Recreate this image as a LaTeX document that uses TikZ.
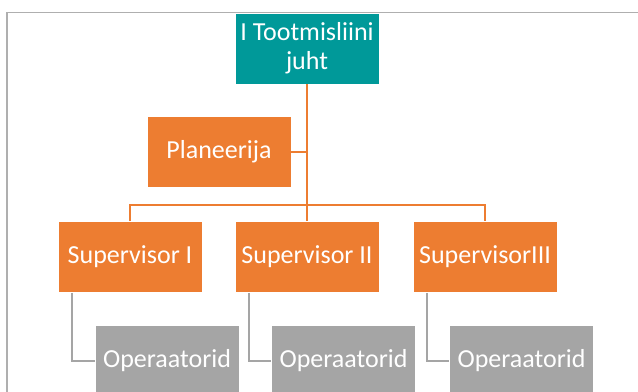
\documentclass[tikz,border=0pt]{standalone}
\usepackage{fontspec}
\setmainfont{Carlito}
\definecolor{headteal}{RGB}{0,153,153}
\definecolor{mgrorange}{RGB}{237,125,49}
\definecolor{opgray}{RGB}{165,165,165}
\definecolor{framegray}{RGB}{175,175,175}
\begin{document}
\begin{tikzpicture}[x=0.75pt,y=-0.75pt,
  box/.style={minimum width=108pt, minimum height=53.25pt, inner sep=0pt,
    text=white, align=center, draw=white, line width=0.6pt,
    font=\fontsize{19.5}{21.75}\selectfont},
  headbox/.style={box, fill=headteal},
  mgrbox/.style={box, fill=mgrorange},
  opbox/.style={box, fill=opgray},
  orangelink/.style={draw=mgrorange, line width=1.5pt},
  graylink/.style={draw=opgray, line width=1.5pt}]
\clip (0,0) rectangle (638,392);
% outer frame (right and bottom sides run off the page)
\draw[framegray, line width=1.1pt] (7,400) -- (7,12.5) -- (660,12.5);

% head
\node[headbox] (head) at (307,48.5) {I Tootmisliini\\juht};
% assistant
\node[mgrbox] (plan) at (219,152) {Planeerija};
% supervisors
\node[mgrbox] (sup1) at (130,257) {Supervisor I};
\node[mgrbox] (sup2) at (307,257) {Supervisor II};
\node[mgrbox] (sup3) at (485,257) {SupervisorIII};
% operators
\node[opbox] (op1) at (167,361) {Operaatorid};
\node[opbox] (op2) at (343.5,361) {Operaatorid};
\node[opbox] (op3) at (521.5,361) {Operaatorid};

% orange hierarchy links
\coordinate (bus) at (307,204.5);
\draw[orangelink] (head.south) -- (sup2.north);
\draw[orangelink] (plan.east) -- (plan.east -| head.south);
\draw[orangelink] (sup1.north) |- (bus) -| (sup3.north);

% gray operator links
\draw[graylink] ([xshift=10.5pt]sup1.south west) |- (op1.west);
\draw[graylink] ([xshift=10.5pt]sup2.south west) |- (op2.west);
\draw[graylink] ([xshift=10.5pt]sup3.south west) |- (op3.west);
\end{tikzpicture}
\end{document}
